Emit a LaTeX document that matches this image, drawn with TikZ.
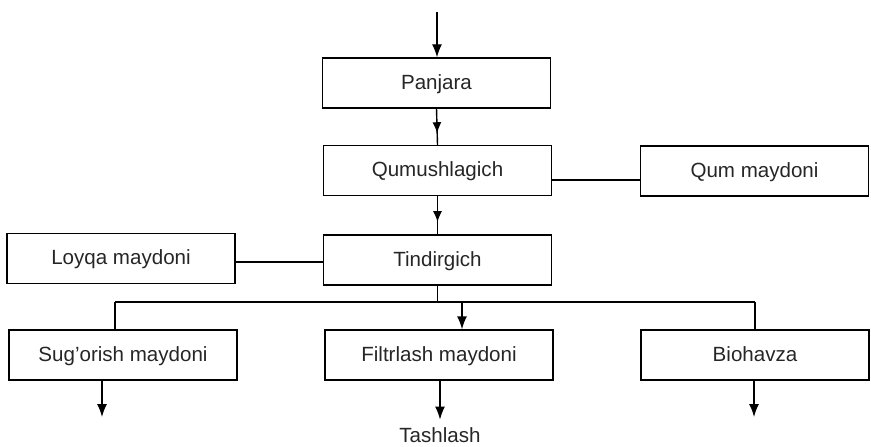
\documentclass[tikz,border=0pt]{standalone}
\usepackage{fontspec}
\setmainfont{Liberation Sans}
\usetikzlibrary{arrows.meta, decorations.markings}

\begin{document}
\begin{tikzpicture}[
      stage/.style = {
        rectangle, draw=black, thick,
        minimum width=4.56cm, minimum height=1.0cm, inner sep=0pt,
        text height=0.9em, text depth=0.18em,
        font=\fontsize{11.7}{14}\selectfont, text=black!85
      },
      flow/.style = {thick, -{Latex[length=2.6mm, width=2mm]}},
      midflow/.style = {
        thick, postaction={decorate},
        decoration={markings, mark=at position 0.68 with {\arrow{Latex[length=2.2mm, width=1.8mm]}}}
      }
    ]

    \useasboundingbox (0,0) rectangle (17.42,8.92);

    \node[stage] (Panjara)  at ( 8.73, 7.26) {Panjara};
    \node[stage] (Qumush)   at ( 8.75, 5.51) {Qumushlagich};
    \node[stage] (QumMay)   at (15.09, 5.50) {Qum maydoni};
    \node[stage] (Tindir)   at ( 8.75, 3.72) {Tindirgich};
    \node[stage] (LoyqaMay) at ( 2.42, 3.75) {Loyqa maydoni};

    \node[stage] (SugMay)   at ( 2.46, 1.82) {Sug'orish maydoni};
    \node[stage] (FiltMay)  at ( 8.78, 1.82) {Filtrlash maydoni};
    \node[stage] (Biohavza) at (15.10, 1.82) {Biohavza};

    \node[font=\fontsize{11.7}{14}\selectfont, text=black!85, inner sep=0.15cm]
      (Tashlash) at (8.80, 0.22) {Tashlash};

    \coordinate (Inlet)  at (8.74, 8.68);
    \coordinate (BusL)   at (2.30, 2.88);
    \coordinate (BusR)   at (15.10, 2.88);
    \coordinate (BusM)   at (9.24, 2.88);
    \coordinate (OutSug) at (2.04, 0.58);
    \coordinate (OutBio) at (15.08, 0.58);

    \draw[flow] (Inlet) -- (Panjara.north -| Inlet);
    \draw[midflow] (Panjara.south) -- (Qumush.north);
    \draw[midflow] (Qumush.south) -- (Tindir.north);

    \draw[thick] (Qumush.east |- 0,5.32) -- (QumMay.west |- 0,5.32);
    \draw[thick] (LoyqaMay.east |- 0,3.68) -- (Tindir.west |- 0,3.68);

    \draw[thick] (Tindir.south) -- (Tindir.south |- BusL);
    \draw[thick] (BusL) -- (BusR);
    \draw[thick] (BusL) -- (BusL |- SugMay.north);
    \draw[thick] (BusR) -- (BusR |- Biohavza.north);
    \draw[flow] (BusM) -- (BusM |- FiltMay.north);

    \draw[flow] (SugMay.south -| OutSug) -- (OutSug);
    \draw[flow] (FiltMay.south -| Tashlash.north) -- (Tashlash.north);
    \draw[flow] (Biohavza.south -| OutBio) -- (OutBio);

  \end{tikzpicture}
\end{document}
